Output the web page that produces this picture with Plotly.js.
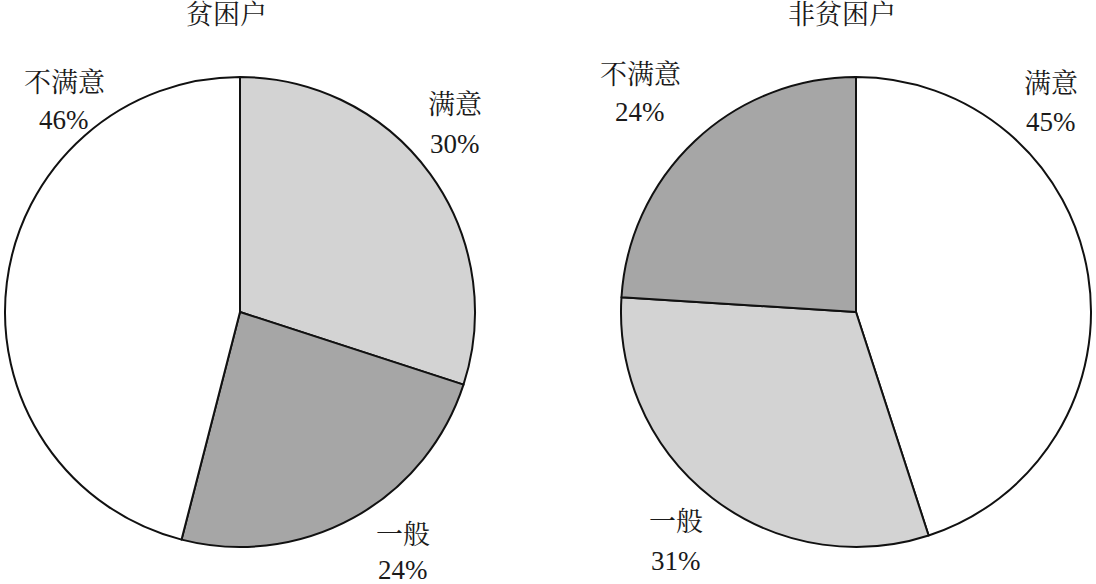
<!DOCTYPE html>
<html>
<head>
<meta charset="utf-8">
<script src="https://cdn.plot.ly/plotly-3.0.1.min.js"></script>
<style>
  html, body { margin: 0; padding: 0; background: #fff; }
  #chart { width: 1096px; height: 584px; }
</style>
</head>
<body>
<div id="chart"></div>
<script>
const categories = ['满意', '一般', '不满意'];
const groups = ['贫困户', '非贫困户'];
const poorValues = [30, 24, 46];
const nonPoorValues = [45, 31, 24];

const poorColors = ['#d3d3d3', '#a6a6a6', '#ffffff'];
const nonPoorColors = ['#ffffff', '#d3d3d3', '#a6a6a6'];

const W = 1096, H = 584;
const font = 'Liberation Serif, "Noto Serif CJK SC", "Noto Sans CJK SC", serif';

// label placement in pixels: [x, label y, percent y], same order as categories
const poorLabelPos = [[455, 105, 144], [403, 535, 570], [64, 83, 120]];
const nonPoorLabelPos = [[1051, 84, 122], [676, 522, 561], [640, 75, 112]];
const titlePos = [[226, 15], [842, 15]];

function pie(values, colors, x0, x1) {
  return {
    type: 'pie',
    labels: categories,
    values: values,
    sort: false,
    direction: 'clockwise',
    rotation: 0,
    textinfo: 'none',
    hoverinfo: 'label+percent',
    marker: { colors: colors, line: { color: '#111', width: 2 } },
    domain: { x: [x0 / W, x1 / W], y: [(H - 547) / H, (H - 77) / H] },
    showlegend: false
  };
}

const data = [
  pie(poorValues, poorColors, 5, 475),
  pie(nonPoorValues, nonPoorColors, 621, 1091)
];

function txt(text, px, py) {
  return {
    text: text, x: px / W, y: 1 - py / H, xref: 'paper', yref: 'paper',
    xanchor: 'center', yanchor: 'middle', showarrow: false,
    font: { family: font, size: 27, color: '#1a1a1a' }
  };
}

const annotations = [];
groups.forEach((g, i) => annotations.push(txt(g, titlePos[i][0], titlePos[i][1])));
[[poorValues, poorLabelPos], [nonPoorValues, nonPoorLabelPos]].forEach(([vals, pos]) => {
  categories.forEach((c, k) => {
    annotations.push(txt(c, pos[k][0], pos[k][1]));
    annotations.push(txt(vals[k] + '%', pos[k][0], pos[k][2]));
  });
});

const layout = {
  width: W, height: H,
  margin: { l: 0, r: 0, t: 0, b: 0 },
  paper_bgcolor: '#fff',
  annotations: annotations
};

Plotly.newPlot('chart', data, layout, { displayModeBar: false, staticPlot: true });
</script>
</body>
</html>
